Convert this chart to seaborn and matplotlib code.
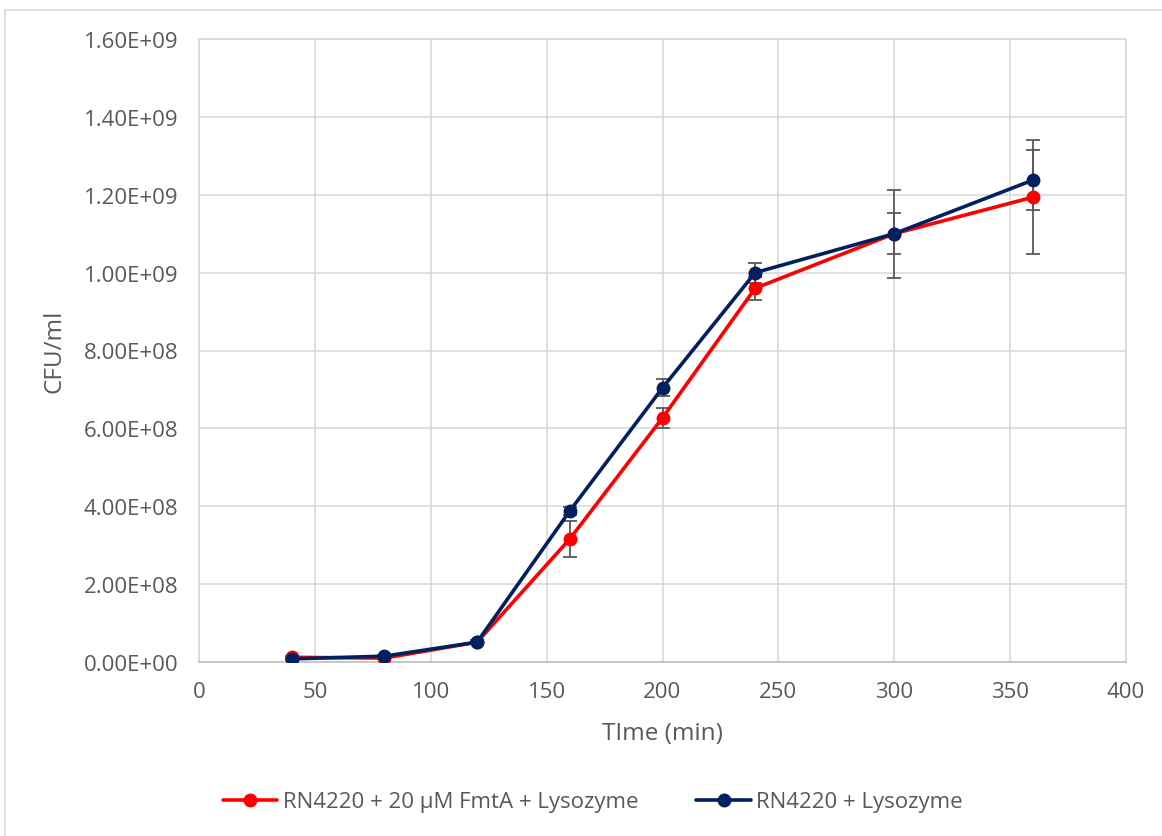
import matplotlib
matplotlib.use("Agg")
import matplotlib.pyplot as plt
from matplotlib.patches import Rectangle
from matplotlib.ticker import FuncFormatter, MultipleLocator
from matplotlib.lines import Line2D
import numpy as np
import pandas as pd
import seaborn as sns

# Growth curves (CFU/ml) over time
time_min = [40, 80, 120, 160, 200, 240, 300, 360]
fmta_cfu = [1.2e7, 1.0e7, 5.1e7, 3.16e8, 6.27e8, 9.60e8, 1.10e9, 1.194e9]
fmta_err = [3e6, 3e6, 5e6, 4.6e7, 2.5e7, 3.0e7, 1.13e8, 1.46e8]
lyso_cfu = [8e6, 1.5e7, 5.1e7, 3.88e8, 7.04e8, 1.00e9, 1.10e9, 1.238e9]
lyso_err = [3e6, 3e6, 5e6, 1.0e7, 2.2e7, 2.6e7, 5.2e7, 7.7e7]

series_names = ["RN4220 + 20 \u00b5M FmtA + Lysozyme", "RN4220 + Lysozyme"]
series_colors = ["#ff0000", "#002060"]

df = pd.DataFrame({
    "time": time_min * 2,
    "cfu": fmta_cfu + lyso_cfu,
    "err": fmta_err + lyso_err,
    "series": [series_names[0]] * len(time_min) + [series_names[1]] * len(time_min),
})

sns.set_theme(style="white")
plt.rcParams["font.family"] = ["Open Sans", "DejaVu Sans"]

text_color = "#595959"
grid_color = "#d9d9d9"

fig = plt.figure(figsize=(11.62, 8.37), dpi=100)
W, H = 1162, 837
ax = fig.add_axes([199 / W, 1 - 663 / H, (1126 - 199) / W, (663 - 40) / H])

# chart-area frame
fig.patches.append(Rectangle((5 / W, -0.1), 1.2, 1 - 11 / H + 0.1,
                             transform=fig.transFigure, fill=False,
                             edgecolor="#d9d9d9", linewidth=1.2))

# error bars behind the lines
for name in series_names:
    sub = df[df["series"] == name]
    ax.errorbar(sub["time"], sub["cfu"], yerr=sub["err"], fmt="none",
                ecolor="#595959", elinewidth=1.3, capsize=5, capthick=1.3,
                zorder=2)

sns.lineplot(data=df, x="time", y="cfu", hue="series",
             palette=dict(zip(series_names, series_colors)),
             marker="o", markersize=10, markeredgewidth=0, linewidth=2.6,
             legend=False, ax=ax, zorder=3)

ax.set_xlim(0, 400)
ax.set_ylim(0, 1.6e9)
ax.xaxis.set_major_locator(MultipleLocator(50))
ax.yaxis.set_major_locator(MultipleLocator(2e8))

def sci_fmt(v, _):
    if v == 0:
        return "0.00E+00"
    exp = int(np.floor(np.log10(abs(v))))
    return f"{v / 10 ** exp:.2f}E+{exp:02d}"

ax.yaxis.set_major_formatter(FuncFormatter(sci_fmt))
ax.grid(True, color=grid_color, linewidth=1.2)
ax.set_axisbelow(True)
for side, sp in ax.spines.items():
    sp.set_visible(True)
    sp.set_color(grid_color)
    sp.set_linewidth(1.2)
ax.spines["bottom"].set_color("#bfbfbf")

ax.tick_params(axis="both", length=0, labelsize=16, colors=text_color)
ax.tick_params(axis="x", pad=14)
ax.tick_params(axis="y", pad=15)
ax.set_xlabel("TIme (min)", fontsize=17.5, color=text_color, labelpad=13)
ax.set_ylabel("CFU/ml", fontsize=17.5, color=text_color, labelpad=12)

handles = [Line2D([0], [0], color=c, linewidth=2.6, marker="o", markersize=10,
                  markeredgewidth=0) for c in series_colors]
fig.legend(handles, series_names, loc="center", bbox_to_anchor=(593 / W, 1 - 803 / H),
           ncol=2, frameon=False, fontsize=16, labelcolor=text_color,
           handlelength=2.45, handletextpad=0.25, columnspacing=2.6)

fig.savefig("out.png", dpi=100, facecolor="white")
